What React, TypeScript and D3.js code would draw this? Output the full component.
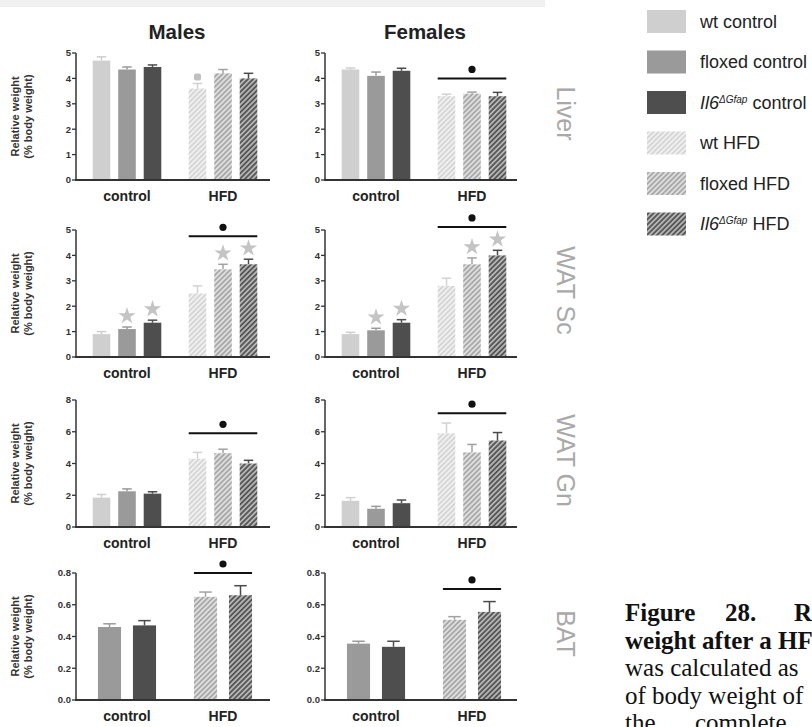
import React from "react";
import * as d3 from "d3";

// ---- data -------------------------------------------------------------
// series order: wt control, floxed control, Il6 control, wt HFD, floxed HFD, Il6 HFD
const seriesKeys = ["wtC", "floxC", "il6C", "wtH", "floxH", "il6H"];
const groups = ["control", "HFD"];
const seriesGroup = [0, 0, 0, 1, 1, 1];

const liverMalesMean = [4.7, 4.35, 4.45, 3.6, 4.2, 4.0];
const liverMalesSem = [0.15, 0.1, 0.08, 0.2, 0.15, 0.2];
const liverFemalesMean = [4.35, 4.1, 4.3, 3.3, 3.4, 3.3];
const liverFemalesSem = [0.06, 0.15, 0.1, 0.08, 0.06, 0.15];

const watScMalesMean = [0.9, 1.1, 1.35, 2.5, 3.45, 3.65];
const watScMalesSem = [0.1, 0.08, 0.1, 0.3, 0.2, 0.2];
const watScFemalesMean = [0.9, 1.05, 1.35, 2.8, 3.65, 4.0];
const watScFemalesSem = [0.07, 0.08, 0.12, 0.3, 0.25, 0.2];

const watGnMalesMean = [1.85, 2.25, 2.1, 4.3, 4.65, 4.0];
const watGnMalesSem = [0.2, 0.15, 0.12, 0.4, 0.25, 0.2];
const watGnFemalesMean = [1.65, 1.15, 1.5, 5.9, 4.7, 5.45];
const watGnFemalesSem = [0.2, 0.15, 0.2, 0.65, 0.5, 0.5];

// BAT was measured only in floxed and Il6 animals
const batSeries = [1, 2, 4, 5];
const batMalesMean = [0.46, 0.47, 0.65, 0.66];
const batMalesSem = [0.02, 0.03, 0.03, 0.06];
const batFemalesMean = [0.355, 0.335, 0.505, 0.555];
const batFemalesSem = [0.015, 0.035, 0.02, 0.065];

const ticksWhole5 = [0, 1, 2, 3, 4, 5];
const ticksGn = [0, 2, 4, 6, 8];
const ticksBat = [0, 0.2, 0.4, 0.6, 0.8];

const tissueLabels = ["Liver", "WAT Sc", "WAT Gn", "BAT"];
const sexLabels = ["Males", "Females"];

const legendLabels = [
  { pre: "wt", sup: "", post: " control" },
  { pre: "floxed", sup: "", post: " control" },
  { pre: "Il6", sup: "ΔGfap", post: " control", italic: true },
  { pre: "wt", sup: "", post: " HFD" },
  { pre: "floxed", sup: "", post: " HFD" },
  { pre: "Il6", sup: "ΔGfap", post: " HFD", italic: true },
];

const captionLines = [
  { words: ["Figure", "28.", "Re"], bold: true },
  { words: ["weight after a HF"], bold: true },
  { words: ["was calculated as"], bold: false },
  { words: ["of body weight of"], bold: false },
  { words: ["the", "complete"], bold: false },
];

// ---- styling ----------------------------------------------------------
const solid = ["#cfcfcf", "#9a9a9a", "#4e4e4e"];
const hatchBg = ["#f0f0f0", "#dedede", "#b4b4b4"];
const hatchLine = ["#d2d2d2", "#a2a2a2", "#4a4a4a"];
const fillFor = (s: number) => (s < 3 ? solid[s] : `url(#hatch${s - 3})`);
const strokeFor = (s: number) => (s < 3 ? solid[s] : hatchLine[s - 3]);

const FONT = "'Liberation Sans', Arial, sans-serif";

type Panel = {
  mean: number[];
  sem: number[];
  series: number[];
  ticks: number[];
  fmt: (v: number) => string;
  stars?: number[];
  dot?: number[];
  bracket?: number;
};

const fmtInt = (v: number) => d3.format("d")(v);
const fmt1 = (v: number) => d3.format(".1f")(v);
const all6 = [0, 1, 2, 3, 4, 5];

const rows: Panel[][] = [
  [
    { mean: liverMalesMean, sem: liverMalesSem, series: all6, ticks: ticksWhole5, fmt: fmtInt, dot: [3] },
    { mean: liverFemalesMean, sem: liverFemalesSem, series: all6, ticks: ticksWhole5, fmt: fmtInt, bracket: 4.0 },
  ],
  [
    { mean: watScMalesMean, sem: watScMalesSem, series: all6, ticks: ticksWhole5, fmt: fmtInt, stars: [1, 2, 4, 5], bracket: 4.75 },
    { mean: watScFemalesMean, sem: watScFemalesSem, series: all6, ticks: ticksWhole5, fmt: fmtInt, stars: [1, 2, 4, 5], bracket: 5.12 },
  ],
  [
    { mean: watGnMalesMean, sem: watGnMalesSem, series: all6, ticks: ticksGn, fmt: fmtInt, bracket: 5.9 },
    { mean: watGnFemalesMean, sem: watGnFemalesSem, series: all6, ticks: ticksGn, fmt: fmtInt, bracket: 7.17 },
  ],
  [
    { mean: batMalesMean, sem: batMalesSem, series: batSeries, ticks: ticksBat, fmt: fmt1, bracket: 0.8 },
    { mean: batFemalesMean, sem: batFemalesSem, series: batSeries, ticks: ticksBat, fmt: fmt1, bracket: 0.7 },
  ],
];

// layout
const rowBase = [180, 357, 527, 700];
const plotH = 127;
const colLeft = [76, 325];
const colWidth = [194, 192];

const starPath = d3.symbol().type(d3.symbolStar).size(92)() as string;

function BarPanel({ p, left, width, base }: { p: Panel; left: number; width: number; base: number }) {
  const yMax = p.ticks[p.ticks.length - 1];
  const y = d3.scaleLinear().domain([0, yMax]).range([base, base - plotH]);
  const gx = d3.scaleBand<string>().domain(groups).range([left + 3, left + 195]);
  const perGroup = p.series.length / 2;
  const inner = d3
    .scaleBand<number>()
    .domain(d3.range(perGroup))
    .range(perGroup === 3 ? [-38.25, 38.25] : [-35, 35])
    .paddingInner(perGroup === 3 ? 0.31 : 0.34)
    .paddingOuter(perGroup === 3 ? 0.155 : 0.17);
  const bw = inner.bandwidth();

  const bars = p.series.map((s, i) => {
    const g = groups[seriesGroup[s]];
    const cx = (gx(g) as number) + gx.bandwidth() / 2;
    const x = cx + (inner(i % perGroup) as number);
    return { s, i, x, cx: x + bw / 2, v: p.mean[i], e: p.sem[i] };
  });
  const hfd = bars.filter((b) => seriesGroup[b.s] === 1);
  const bx0 = d3.min(hfd, (b) => b.x) as number;
  const bx1 = (d3.max(hfd, (b) => b.x) as number) + bw;

  return (
    <g>
      {bars.map((b) => (
        <g key={b.i}>
          <line x1={b.cx} x2={b.cx} y1={y(b.v)} y2={y(b.v + b.e)} stroke={strokeFor(b.s)} strokeWidth={1.5} />
          <line x1={b.cx - bw * 0.27} x2={b.cx + bw * 0.27} y1={y(b.v + b.e)} y2={y(b.v + b.e)} stroke={strokeFor(b.s)} strokeWidth={1.5} />
          <rect x={b.x} y={y(b.v)} width={bw} height={base - y(b.v)} fill={fillFor(b.s)} />
        </g>
      ))}
      {(p.stars || []).map((i) => {
        const b = bars[i];
        return <path key={`st${i}`} d={starPath} transform={`translate(${b.cx},${y(b.v + b.e) - 11})`} fill="#c4c4c4" />;
      })}
      {(p.dot || []).map((i) => {
        const b = bars[i];
        return <rect key={`dt${i}`} x={b.cx - 3.5} y={y(b.v + b.e) - 10} width={7} height={7} rx={2} fill="#c0c0c0" />;
      })}
      {p.bracket !== undefined && (
        <g>
          <line x1={bx0} x2={bx1} y1={y(p.bracket)} y2={y(p.bracket)} stroke="#111" strokeWidth={2} />
          <circle cx={(bx0 + bx1) / 2} cy={y(p.bracket) - 9} r={3.6} fill="#111" />
        </g>
      )}
      {/* axes */}
      <line x1={left} x2={left} y1={base} y2={base - plotH} stroke="#333" strokeWidth={1.5} />
      {p.ticks.map((t) => (
        <g key={`t${t}`}>
          <line x1={left - 4} x2={left} y1={y(t)} y2={y(t)} stroke="#333" strokeWidth={1.3} />
          <text x={left - 5} y={y(t)} dy="0.35em" textAnchor="end" fontFamily={FONT} fontWeight="bold" fontSize={9.5} fill="#333">
            {p.fmt(t)}
          </text>
        </g>
      ))}
      <line x1={left - 1} x2={left + width} y1={base} y2={base} stroke="#333" strokeWidth={2} />
      {groups.map((g) => (
        <text key={g} x={(gx(g) as number) + gx.bandwidth() / 2} y={base + 21} textAnchor="middle" fontFamily={FONT} fontWeight="bold" fontSize={14} fill="#222">
          {g}
        </text>
      ))}
    </g>
  );
}

export default function App() {
  return (
    <svg width={812} height={727} style={{ position: "absolute", left: 0, top: 0, background: "#fff" }}>
      <defs>
        {hatchBg.map((bg, k) => (
          <pattern key={k} id={`hatch${k}`} patternUnits="userSpaceOnUse" width={3.6} height={3.6} patternTransform="rotate(45)">
            <rect width={3.6} height={3.6} fill={bg} />
            <line x1={0.9} x2={0.9} y1={0} y2={3.6} stroke={hatchLine[k]} strokeWidth={1.6} />
          </pattern>
        ))}
      </defs>
      <rect x={0} y={0} width={545} height={7} fill="#f0f0f0" />

      {sexLabels.map((s, c) => (
        <text key={s} x={colLeft[c] + colWidth[c] / 2 + 4} y={39} textAnchor="middle" fontFamily={FONT} fontWeight="bold" fontSize={20.5} fill="#222">
          {s}
        </text>
      ))}

      {rows.map((row, r) => (
        <g key={r}>
          {row.map((p, c) => (
            <BarPanel key={c} p={p} left={colLeft[c]} width={colWidth[c]} base={rowBase[r]} />
          ))}
          <text transform={`translate(15,${rowBase[r] - plotH / 2}) rotate(-90)`} textAnchor="middle" dy="0.35em" fontFamily={FONT} fontWeight="bold" fontSize={11} fill="#333">
            Relative weight
          </text>
          <text transform={`translate(28,${rowBase[r] - plotH / 2}) rotate(-90)`} textAnchor="middle" dy="0.35em" fontFamily={FONT} fontWeight="bold" fontSize={11} fill="#333">
            (% body weight)
          </text>
          <text transform={`translate(566,${rowBase[r] - plotH / 2 - 3}) rotate(90)`} textAnchor="middle" dy="0.35em" fontFamily={FONT} fontSize={25} fill="#a9a9a9">
            {tissueLabels[r]}
          </text>
        </g>
      ))}

      {/* legend */}
      {legendLabels.map((l, i) => {
        const yTop = 10 + i * 40.5;
        return (
          <g key={seriesKeys[i]}>
            <rect x={647} y={yTop} width={39} height={23} fill={fillFor(i)} />
            <text x={700} y={yTop + 11.5} dy="0.35em" fontFamily={FONT} fontSize={18} fill="#222">
              {l.italic ? (
                <>
                  <tspan fontStyle="italic">{l.pre}</tspan>
                  <tspan fontStyle="italic" fontSize={10} dy={-6}>
                    {l.sup}
                  </tspan>
                  <tspan dy={6}>{l.post}</tspan>
                </>
              ) : (
                <tspan>{l.pre + l.post}</tspan>
              )}
            </text>
          </g>
        );
      })}

      {/* caption */}
      {captionLines.map((ln, i) => {
        const yb = 621 + i * 27.5;
        const xs = ln.words.length === 3 ? [625, 725, 794] : ln.words.length === 2 ? [625, 695] : [625];
        return ln.words.map((w, k) => (
          <text key={`${i}-${k}`} x={xs[k]} y={yb} fontFamily="'Liberation Serif', 'Times New Roman', serif" fontWeight={ln.bold ? "bold" : "normal"} fontSize={25} fill="#111">
            {w}
          </text>
        ));
      })}
    </svg>
  );
}
